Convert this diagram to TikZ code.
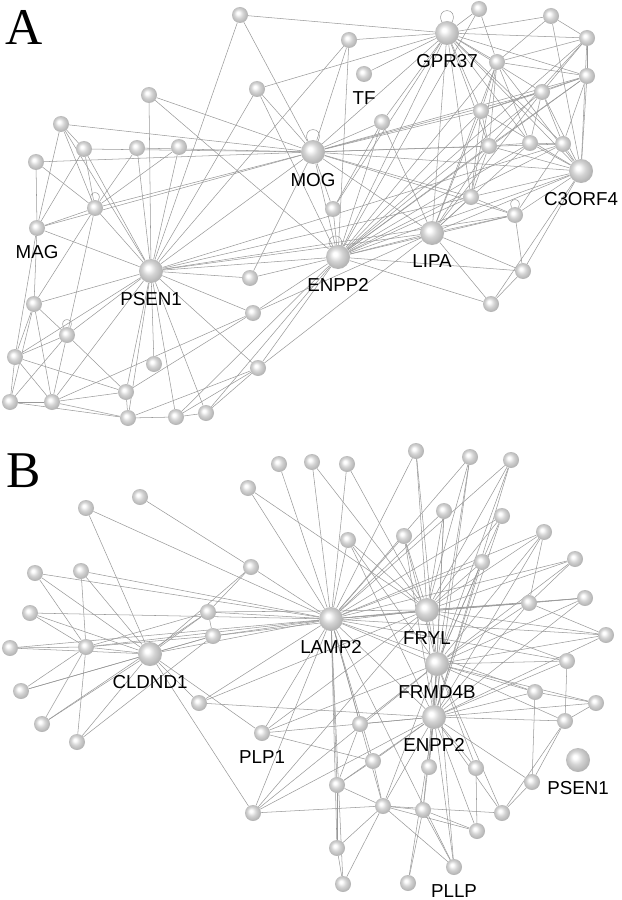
\documentclass[tikz,border=0pt]{standalone}
\usepackage{fontspec}
\setmainfont{Liberation Sans}
\newfontfamily\letterfont{Liberation Serif}
\pgfdeclarelayer{back}
\pgfsetlayers{back,main}
\pgfdeclareradialshading{sphere}{\pgfpoint{-7bp}{7bp}}{%
  color(0bp)=(white); color(4bp)=(white); color(14bp)=(black!17);
  color(24bp)=(black!28); color(40bp)=(black!40)}

\begin{document}
\begin{tikzpicture}[x=0.03cm, y=-0.03cm,
    ball/.style={circle, inner sep=0pt, minimum size=0.48cm, shading=sphere},
    hub/.style={ball, minimum size=0.72cm},
    wire/.style={draw=black!40, line width=0.45pt},
    label distance=0.26cm,
    every label/.style={inner sep=0pt, font=\fontsize{16}{18}\selectfont},
    letter/.style={anchor=base west, inner sep=0pt, font=\letterfont\fontsize{44}{48}\selectfont}]
    \useasboundingbox (0,0) rectangle (622,900);

    % Panel letters
    \node[letter] (pa) at (5,45) {A};
    \node[letter] (pb) at (6,487) {B};

    % Panel A nodes
    \node[ball] (a1) at (240,15) {}; \node[ball] (a2) at (479,9) {};
    \node[hub, label=below:GPR37] (gpr) at (447,33) {};
    \node[ball] (a3) at (551,16) {}; \node[ball] (a4) at (349,40) {};
    \node[ball] (a5) at (587,38) {}; \node[ball] (a6) at (497,62) {};
    \node[ball, label=below:TF] (tf) at (364,74) {};
    \node[ball] (a7) at (587,76) {}; \node[ball] (a8) at (257,89) {};
    \node[ball] (a9) at (149,95) {}; \node[ball] (a10) at (542,92) {};
    \node[ball] (a11) at (481,111) {}; \node[ball] (a12) at (382,122) {};
    \node[ball] (a13) at (61,124) {}; \node[ball] (a14) at (137,148) {};
    \node[ball] (a15) at (179,147) {}; \node[ball] (a16) at (84,149) {};
    \node[hub, label=below:MOG] (mog) at (313,152) {};
    \node[ball] (a17) at (489,146) {}; \node[ball] (a18) at (530,143) {};
    \node[ball] (a19) at (563,144) {}; \node[ball] (a20) at (36,162) {};
    \node[hub, label=below:C3ORF4] (coorf) at (581,171) {};
    \node[ball] (a21) at (471,197) {}; \node[ball] (a22) at (95,208) {};
    \node[ball] (a23) at (333,209) {}; \node[ball] (a24) at (515,215) {};
    \node[ball, label=below:MAG] (mag) at (37,228) {};
    \node[hub, label=below:LIPA] (lipa) at (432,233) {};
    \node[hub, label=below:ENPP2] (enppa) at (338,257) {};
    \node[ball] (a25) at (523,271) {};
    \node[hub, label=below:PSEN1] (psena) at (151,271) {};
    \node[ball] (a26) at (250,278) {}; \node[ball] (a27) at (34,304) {};
    \node[ball] (a28) at (491,304) {}; \node[ball] (a29) at (253,313) {};
    \node[ball] (a30) at (67,335) {}; \node[ball] (a31) at (15,357) {};
    \node[ball] (a32) at (154,364) {}; \node[ball] (a33) at (258,368) {};
    \node[ball] (a34) at (126,392) {}; \node[ball] (a35) at (10,402) {};
    \node[ball] (a36) at (52,402) {}; \node[ball] (a37) at (128,418) {};
    \node[ball] (a38) at (176,417) {}; \node[ball] (a39) at (206,413) {};

    % Panel B nodes
    \node[ball] (b1) at (279,464) {}; \node[ball] (b2) at (312,462) {};
    \node[ball] (b3) at (347,464) {}; \node[ball] (b4) at (416,451) {};
    \node[ball] (b5) at (470,457) {}; \node[ball] (b6) at (511,460) {};
    \node[ball] (b7) at (248,488) {}; \node[ball] (b8) at (140,497) {};
    \node[ball] (b9) at (86,508) {}; \node[ball] (b10) at (444,511) {};
    \node[ball] (b11) at (502,516) {}; \node[ball] (b12) at (544,532) {};
    \node[ball] (b13) at (404,536) {}; \node[ball] (b14) at (348,540) {};
    \node[ball] (b15) at (482,562) {}; \node[ball] (b16) at (575,559) {};
    \node[ball] (b17) at (251,567) {}; \node[ball] (b18) at (35,573) {};
    \node[ball] (b19) at (81,571) {}; \node[ball] (b20) at (585,598) {};
    \node[ball] (b21) at (529,603) {}; \node[ball] (b22) at (30,613) {};
    \node[ball] (b23) at (208,612) {}; \node[ball] (b24) at (213,636) {};
    \node[hub, label=below:LAMP2] (lamp) at (331,619) {};
    \node[hub, label=below:FRYL] (fryl) at (427,610) {};
    \node[ball] (b25) at (606,635) {}; \node[ball] (b26) at (10,648) {};
    \node[ball] (b27) at (86,647) {};
    \node[hub, label=below:CLDND1] (cldnd) at (150,654) {};
    \node[ball] (b28) at (567,661) {};
    \node[hub, label=below:FRMD4B] (frmd) at (437,664) {};
    \node[ball] (b29) at (535,692) {}; \node[ball] (b30) at (596,703) {};
    \node[ball] (b31) at (21,691) {}; \node[ball] (b32) at (199,703) {};
    \node[ball] (b33) at (360,724) {};
    \node[hub, label=below:ENPP2] (enppb) at (434,717) {};
    \node[ball] (b34) at (565,721) {}; \node[ball] (b35) at (42,724) {};
    \node[ball, label=below:PLP1] (plp) at (262,733) {};
    \node[ball] (b36) at (77,742) {};
    \node[hub, label=below:PSEN1] (psenb) at (578,760) {};
    \node[ball] (b37) at (373,761) {}; \node[ball] (b38) at (429,767) {};
    \node[ball] (b39) at (476,768) {}; \node[ball] (b40) at (337,785) {};
    \node[ball] (b41) at (532,782) {}; \node[ball] (b42) at (383,806) {};
    \node[ball] (b43) at (423,810) {}; \node[ball] (b44) at (502,813) {};
    \node[ball] (b45) at (253,813) {}; \node[ball] (b46) at (477,831) {};
    \node[ball] (b47) at (337,848) {};
    \node[ball, label=below:PLLP] (pllp) at (454,867) {};
    \node[ball] (b48) at (343,884) {}; \node[ball] (b49) at (408,883) {};

    \begin{pgfonlayer}{back}
    % Panel A edges
    \draw[wire] (gpr) edge (a1) edge (a2) edge (a3) edge (a4) edge (a5) edge (a6) edge (a7) edge (a8) edge (a10) edge (a11) edge (a12) edge (a17) edge (a18) edge (a19) edge (a21) edge (a23) edge (tf) edge (mog) edge (coorf) edge (lipa) edge (enppa);
    \draw[wire] (mog) edge (a1) edge (a4) edge (a8) edge (a9) edge (a12) edge (a13) edge (a14) edge (a16) edge (a20) edge (a22) edge (mag) edge (a7) edge (a10) edge (a11) edge (a17) edge (a19) edge (a21) edge (a23) edge (a24) edge (a26) edge (coorf) edge (lipa) edge (enppa) edge (psena);
    \draw[wire] (enppa) edge (a2) edge (a4) edge (a5) edge (a6) edge (a7) edge (a8) edge (a9) edge (a10) edge (a11) edge (a12) edge (a17) edge (a18) edge (a19) edge (a21) edge (a23) edge (a24) edge (a25) edge (a28) edge (coorf) edge (lipa) edge (psena) edge (a26) edge (a29) edge (a33) edge (a38) edge (a39);
    \draw[wire] (lipa) edge (a6) edge (a10) edge (a11) edge (a17) edge (a18) edge (a21) edge (a24) edge (a25) edge (a28) edge (coorf) edge (psena) edge (a29) edge (a33) edge (a12);
    \draw[wire] (coorf) edge (a3) edge (a5) edge (a6) edge (a7) edge (a10) edge (a11) edge (a17) edge (a18) edge (a19) edge (a21) edge (a24) edge (a25) edge (a28);
    \draw[wire] (psena) edge (a1) edge (a4) edge (a8) edge (a9) edge (a13) edge (a14) edge (a15) edge (a16) edge (a22) edge (mag) edge (a19) edge (a21) edge (a24) edge (a26) edge (a29) edge (a32) edge (a33) edge (a34) edge (a37) edge (a38) edge (a39) edge (a27) edge (a30) edge (a31) edge (a36);
    \draw[wire] (a3) edge (a5) edge (a6) (a5) edge (a6) edge (a7) edge (a10) edge (a17) (a6) edge (a7) edge (a11) edge (a17) edge (a18) edge (a21) (a7) edge (a10) edge (a11) edge (a17) edge (a19) (a10) edge (a11) edge (a18) edge (a19) (a11) edge (a17) edge (a21) (a17) edge (a18) edge (a21) (a18) edge (a19) (a19) edge (a24) (a21) edge (a24) (a24) edge (a25) (a25) edge (a28) (a12) edge (a23) (a2) edge (a6);
    \draw[wire] (a13) edge (a22) edge (mag) edge (a16) (a16) edge (a22) edge (mag) (a20) edge (a22) edge (mag) (a14) edge (a22) (a15) edge (a22) (a22) edge (mag) edge (a27) edge (a30) (mag) edge (a27) edge (a31) (a27) edge (a30) edge (a31) edge (a35) edge (a36) (a30) edge (a31) edge (a34) edge (a35) edge (a36) (a31) edge (a34) edge (a35) edge (a36) (a35) edge (a36) edge (a37) (a36) edge (a29) edge (a34) edge (a37) (a34) edge (a29) edge (a37) (a37) edge (a33) edge (a38) (a38) edge (a33) edge (a39) (a39) edge (a33);
    % self loops
    \draw[wire] (gpr) to[out=115, in=65, min distance=0.5cm] (gpr)
        (mog) to[out=115, in=65, min distance=0.5cm] (mog)
        (enppa) to[out=125, in=75, min distance=0.45cm] (enppa)
        (a22) to[out=115, in=65, min distance=0.35cm] (a22)
        (a24) to[out=115, in=65, min distance=0.35cm] (a24)
        (a30) to[out=115, in=65, min distance=0.35cm] (a30);

    % Panel B edges
    \draw[wire] (lamp) edge (b1) edge (b2) edge (b3) edge (b4) edge (b5) edge (b6) edge (b7) edge (b9) edge (b10) edge (b11) edge (b12) edge (b13) edge (b14) edge (b15) edge (b16) edge (b17) edge (b18) edge (b19) edge (b20) edge (b21) edge (b22) edge (b23) edge (b24) edge (b25) edge (b26) edge (b27) edge (b28) edge (b29) edge (cldnd) edge (fryl) edge (frmd) edge (enppb) edge (plp) edge (b32) edge (b33) edge (b37) edge (b40) edge (b42) edge (b45) edge (b47) edge (b48) edge (pllp);
    \draw[wire] (fryl) edge (b2) edge (b3) edge (b4) edge (b5) edge (b6) edge (b7) edge (b10) edge (b11) edge (b12) edge (b13) edge (b14) edge (b15) edge (b16) edge (b20) edge (b21) edge (b23) edge (b24) edge (b25) edge (b28) edge (frmd) edge (enppb) edge (plp) edge (b32) edge (b45);
    \draw[wire] (frmd) edge (b4) edge (b5) edge (b6) edge (b10) edge (b11) edge (b12) edge (b13) edge (b14) edge (b15) edge (b16) edge (b20) edge (b21) edge (b25) edge (b28) edge (b29) edge (b30) edge (b34) edge (enppb) edge (plp) edge (b45) edge (b33) edge (b38) edge (b39) edge (b42) edge (b43) edge (b44) edge (pllp);
    \draw[wire] (enppb) edge (b5) edge (b6) edge (b10) edge (b11) edge (b12) edge (b13) edge (b14) edge (b15) edge (b20) edge (b21) edge (b25) edge (b28) edge (b29) edge (b30) edge (b34) edge (b41) edge (b44) edge (b33) edge (b37) edge (b38) edge (b39) edge (b40) edge (b42) edge (b43) edge (b46) edge (b49) edge (pllp) edge (plp) edge (b45) edge (b32);
    \draw[wire] (cldnd) edge (b9) edge (b17) edge (b18) edge (b19) edge (b22) edge (b23) edge (b24) edge (b26) edge (b27) edge (b31) edge (b32) edge (b35) edge (b36) edge (plp) edge (b45);
    \draw[wire] (b8) edge (b17) (b17) edge (b23) (b27) edge (b18) edge (b19) edge (b22) edge (b26) edge (b23) edge (b24) edge (b31) edge (b35) edge (b36) (b23) edge (b24) edge (b35) (b24) edge (b31) edge (b36) (b21) edge (b12) edge (b16) edge (b20) edge (b25) (b34) edge (b28) edge (b30) edge (b41) edge (b44) (b29) edge (b30) edge (b41) (b41) edge (b44) (b42) edge (b44) edge (b43) edge (b40) edge (b47) edge (b48) edge (b46) edge (b45) edge (pllp) edge (b37) (b43) edge (b49) edge (b46) edge (pllp) (b40) edge (b47) edge (b37) edge (b33) (b47) edge (b48) (b39) edge (b46) (plp) edge (b37);
    \end{pgfonlayer}
\end{tikzpicture}
\end{document}
